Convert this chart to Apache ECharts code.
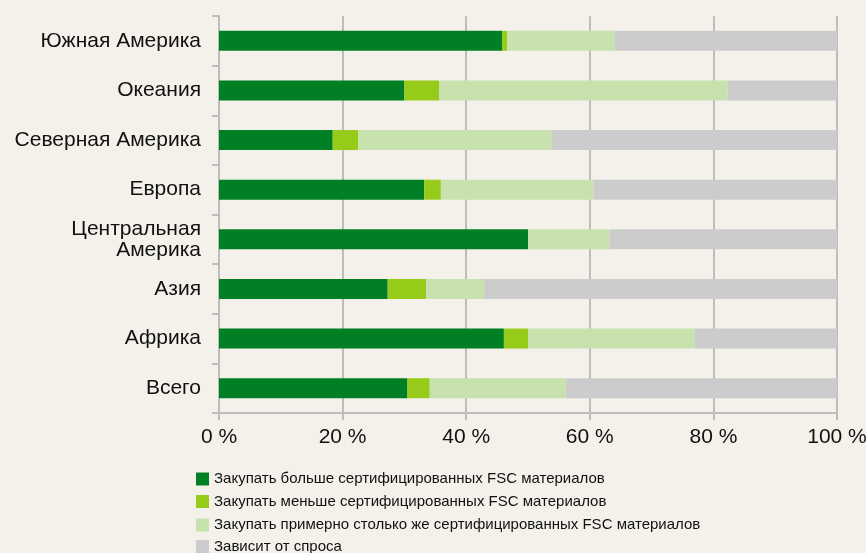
<!DOCTYPE html>
<html><head><meta charset="utf-8">
<script src="https://cdn.jsdelivr.net/npm/echarts@6/dist/echarts.min.js"></script>
<style>html,body{margin:0;padding:0;background:#F3F1EA;}#c{width:866px;height:553px;}</style>
</head><body><div id="c"></div>
<script>
const categories = ['Южная Америка','Океания','Северная Америка','Европа','Центральная\nАмерика','Азия','Африка','Всего'];
const seriesNames = [
  'Закупать больше сертифицированных FSC материалов',
  'Закупать меньше сертифицированных FSC материалов',
  'Закупать примерно столько же сертифицированных FSC материалов',
  'Зависит от спроса'
];
const moreFSC   = [45.8, 30.0, 18.4, 33.2, 50.0, 27.3, 46.1, 30.5];
const lessFSC   = [0.8, 5.6, 4.1, 2.7, 0.0, 6.2, 3.9, 3.6];
const sameFSC   = [17.4, 46.7, 31.3, 24.7, 13.2, 9.4, 27.0, 22.0];
const demand    = [36.0, 17.7, 46.2, 39.4, 36.8, 57.1, 23.0, 43.9];
const xTicks = [0, 20, 40, 60, 80, 100];
const colors = ['#007F24', '#97CB1A', '#C8E2AE', '#CCCCCC'];
const data = [moreFSC, lessFSC, sameFSC, demand];
const legendTops = [471.5, 494, 517.5, 539];

const chart = echarts.init(document.getElementById('c'));
chart.setOption({
  backgroundColor: '#F3F1EA',
  animation: false,
  textStyle: {fontFamily: 'Liberation Sans, Arial, sans-serif'},
  grid: {left: 219, right: 29, top: 16, bottom: 140, containLabel: false, outerBoundsMode: 'none'},
  legend: seriesNames.map((n, i) => ({
    orient: 'vertical', left: 196, top: legendTops[i], padding: 0,
    itemWidth: 13, itemHeight: 13, itemGap: 5,
    icon: 'rect', selectedMode: false,
    textStyle: {fontSize: 15, color: '#111'},
    data: [n]
  })),
  xAxis: {
    type: 'value', min: 0, max: 100, interval: 20,
    axisLine: {show: true, lineStyle: {color: '#BDBDBD', width: 2}},
    axisTick: {show: true, length: 7, lineStyle: {color: '#BDBDBD', width: 2}},
    splitLine: {show: true, lineStyle: {color: '#BDBDBD', width: 2}},
    axisLabel: {fontSize: 21, color: '#111', margin: 14,
      formatter: v => xTicks.includes(v) ? v + ' %' : ''}
  },
  yAxis: {
    type: 'category', data: categories, inverse: true,
    axisLine: {show: true, lineStyle: {color: '#BDBDBD', width: 2}},
    axisTick: {show: true, length: 7, lineStyle: {color: '#BDBDBD', width: 2}},
    axisLabel: {fontSize: 21, color: '#111', margin: 18, lineHeight: 21, align: 'right'}
  },
  series: seriesNames.map((n, i) => ({
    name: n, type: 'bar', stack: 'total', barWidth: 20,
    itemStyle: {color: colors[i]},
    data: data[i]
  }))
});
</script></body></html>
